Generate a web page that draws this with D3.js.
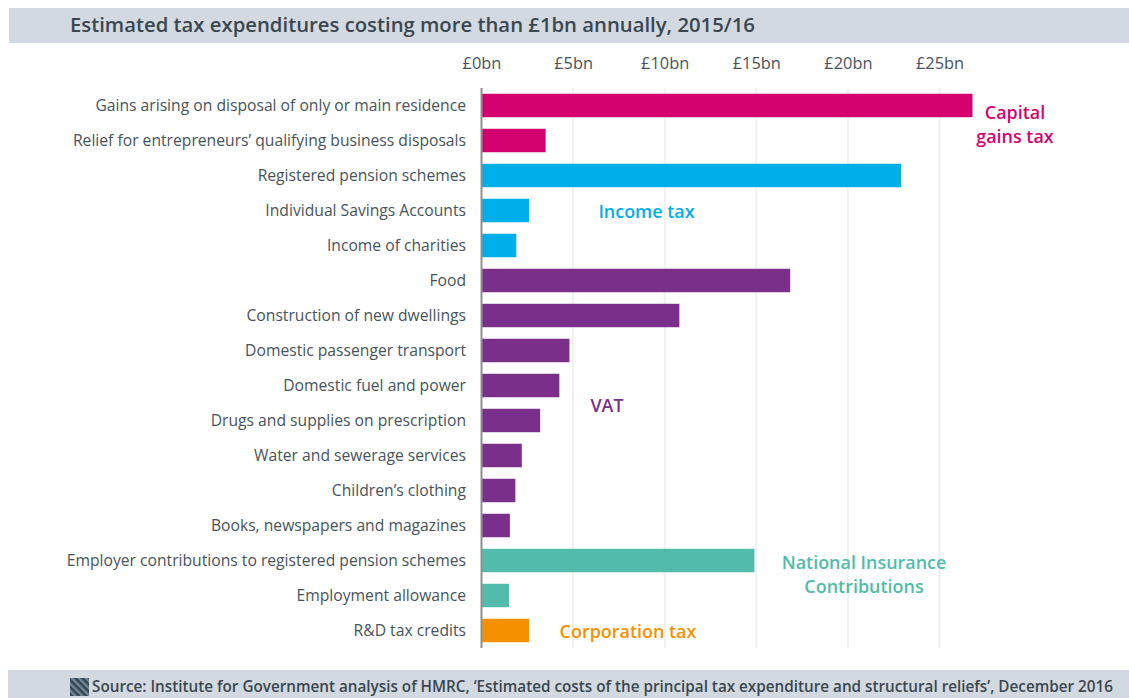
<!DOCTYPE html>
<html>
<head>
<meta charset="utf-8">
<script src="https://cdnjs.cloudflare.com/ajax/libs/d3/7.8.5/d3.min.js"></script>
<style>
  html, body { margin: 0; padding: 0; background: #fff; }
  svg { display: block; font-family: "Open Sans", sans-serif; }
  .domain { display: none; }
</style>
</head>
<body>
<div class="chart"></div>
<script>
// data
var categories = [
  "Gains arising on disposal of only or main residence",
  "Relief for entrepreneurs\u2019 qualifying business disposals",
  "Registered pension schemes",
  "Individual Savings Accounts",
  "Income of charities",
  "Food",
  "Construction of new dwellings",
  "Domestic passenger transport",
  "Domestic fuel and power",
  "Drugs and supplies on prescription",
  "Water and sewerage services",
  "Children\u2019s clothing",
  "Books, newspapers and magazines",
  "Employer contributions to registered pension schemes",
  "Employment allowance",
  "R&D tax credits"
];
var values = [26.8, 3.5, 22.9, 2.6, 1.9, 16.85, 10.8, 4.8, 4.25, 3.2, 2.2, 1.85, 1.55, 14.9, 1.5, 2.6];
var taxTypes = ["cgt", "cgt", "inc", "inc", "inc", "vat", "vat", "vat", "vat", "vat", "vat", "vat", "vat", "nic", "nic", "corp"];
var xTicks = [0, 5, 10, 15, 20, 25];

var titleText = "Estimated tax expenditures costing more than \u00a31bn annually, 2015/16";
var sourceText = "Source: Institute for Government analysis of HMRC, \u2018Estimated costs of the principal tax expenditure and structural reliefs\u2019, December 2016";

var typeColor = d3.scaleOrdinal()
  .domain(["cgt", "inc", "vat", "nic", "corp"])
  .range(["#d4026e", "#00aeea", "#7a308a", "#52bbab", "#f59100"]);

var width = 1129, height = 698;
var svg = d3.select(".chart").append("svg")
  .attr("width", width)
  .attr("height", height);

var x = d3.scaleLinear().domain([0, 25]).range([481.5, 939.5]);
var y = d3.scaleBand().domain(categories).range([88, 648]).paddingInner(0.33).paddingOuter(0.165);

// header and footer bands
svg.append("rect").attr("x", 9).attr("y", 8).attr("width", 1120).attr("height", 35).attr("fill", "#d2d9e0");
svg.append("rect").attr("x", 8).attr("y", 670).attr("width", 1121).attr("height", 28).attr("fill", "#d2d9e0");

svg.append("text")
  .attr("x", 70).attr("y", 32)
  .attr("font-size", 20.3).attr("font-weight", 600).attr("fill", "#3a4750")
  .text(titleText);

// striped source icon
var defs = svg.append("defs");
var stripes = defs.append("pattern")
  .attr("id", "stripes")
  .attr("width", 5).attr("height", 5)
  .attr("patternUnits", "userSpaceOnUse")
  .attr("patternTransform", "rotate(45)");
stripes.append("rect").attr("width", 5).attr("height", 5).attr("fill", "#6f8596");
stripes.append("rect").attr("width", 5).attr("height", 2.5).attr("fill", "#36454f");
svg.append("rect").attr("x", 70).attr("y", 678).attr("width", 19).attr("height", 18).attr("fill", "url(#stripes)");

svg.append("text")
  .attr("x", 92).attr("y", 692)
  .attr("font-size", 15.26).attr("font-weight", 600).attr("fill", "#3a4750")
  .text(sourceText);

// gridlines running down the plot
svg.append("g").selectAll("line")
  .data(xTicks.slice(1))
  .enter().append("line")
  .attr("x1", function (d) { return x(d); })
  .attr("x2", function (d) { return x(d); })
  .attr("y1", 88).attr("y2", 648)
  .attr("stroke", "#f0f0f1").attr("stroke-width", 2);

// top axis
var xAxis = d3.axisTop(x)
  .tickValues(xTicks)
  .tickFormat(function (d) { return "\u00a3" + d + "bn"; })
  .tickSize(0)
  .tickPadding(0);

var axisGroup = svg.append("g")
  .attr("transform", "translate(0,69)")
  .call(xAxis);
axisGroup.selectAll("text")
  .attr("font-family", "'Open Sans', sans-serif")
  .attr("font-size", 16.4).attr("fill", "#47535c");

// bars
svg.append("g").selectAll("rect")
  .data(categories)
  .enter().append("rect")
  .attr("x", x(0))
  .attr("y", function (d) { return y(d); })
  .attr("width", function (d, i) { return x(values[i]) - x(0); })
  .attr("height", y.bandwidth())
  .attr("fill", function (d, i) { return typeColor(taxTypes[i]); });

// category labels
svg.append("g").selectAll("text")
  .data(categories)
  .enter().append("text")
  .attr("x", 466)
  .attr("y", function (d) { return y(d) + y.bandwidth() / 2; })
  .attr("dy", "0.35em")
  .attr("text-anchor", "end")
  .attr("font-size", 15.68).attr("fill", "#47535c")
  .text(function (d) { return d; });

// y axis line
svg.append("line")
  .attr("x1", x(0)).attr("x2", x(0))
  .attr("y1", 88).attr("y2", 648)
  .attr("stroke", "#8f8f92").attr("stroke-width", 2);

// group labels
var groupLabels = [
  { type: "cgt", lines: ["Capital", "gains tax"], cx: 1015, y: 119 },
  { type: "inc", lines: ["Income tax"], cx: 646.5, y: 218 },
  { type: "vat", lines: ["VAT"], cx: 607, y: 412 },
  { type: "nic", lines: ["National Insurance", "Contributions"], cx: 864, y: 569 },
  { type: "corp", lines: ["Corporation tax"], cx: 628, y: 638 }
];
groupLabels.forEach(function (g) {
  g.lines.forEach(function (line, i) {
    svg.append("text")
      .attr("x", g.cx)
      .attr("y", g.y + i * 24)
      .attr("text-anchor", "middle")
      .attr("font-size", 17.95).attr("font-weight", 600)
      .attr("fill", typeColor(g.type))
      .text(line);
  });
});
</script>
</body>
</html>
